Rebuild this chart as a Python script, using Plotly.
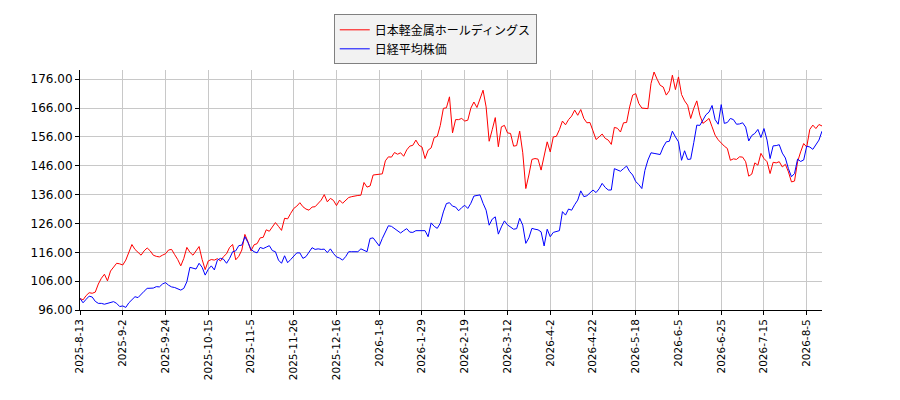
import plotly.graph_objects as go

# values (both series start at 100), one per trading day
nlm = [
    100.0, 99.5, 101.0, 102.0, 101.8, 102.2, 105.0, 107.0, 108.4, 106.1,
    109.5, 111.0, 112.2, 112.0, 111.6, 113.3, 116.0, 118.7, 117.0, 116.0,
    115.0, 116.5, 117.5, 116.5, 115.0, 114.6, 114.4, 115.0, 115.5, 116.8,
    117.0, 115.2, 113.5, 111.3, 113.9, 117.7, 116.0, 115.0, 116.5, 118.0,
    113.5, 110.0, 113.0, 113.5, 113.3, 113.8, 113.0, 114.5, 115.5, 117.7,
    118.7, 113.4, 114.6, 116.8, 122.2, 119.7, 116.5, 118.6, 119.0, 121.0,
    121.2, 123.8, 123.3, 125.0, 126.3, 125.0, 123.6, 127.8, 127.6, 129.5,
    131.2, 132.0, 133.2, 131.8, 131.0, 130.6, 131.7, 131.8, 133.0, 134.1,
    136.0, 133.5, 134.7, 134.0, 132.2, 134.1, 133.0, 134.0, 135.0, 135.3,
    135.6, 135.7, 135.8, 140.2, 138.6, 139.0, 142.8, 143.0, 143.2, 143.2,
    147.7, 149.1, 149.0, 150.6, 150.0, 150.5, 149.3, 151.5, 152.8, 153.1,
    154.9, 153.1, 152.5, 148.5, 151.4, 152.2, 155.8, 156.2, 160.0, 165.9,
    166.1, 169.9, 157.4, 162.0, 162.0, 162.4, 161.5, 161.8, 166.0, 168.1,
    166.2, 169.0, 172.2, 166.4, 154.5, 158.5, 162.7, 152.6, 159.5, 160.0,
    157.4, 157.2, 152.8, 153.0, 158.0, 150.5, 138.1, 142.8, 148.2, 148.5,
    148.3, 144.5, 149.1, 154.3, 150.8, 156.0, 156.2, 158.5, 161.5, 160.2,
    162.0, 163.2, 165.3, 163.5, 165.5, 162.4, 160.9, 161.0, 158.1, 155.1,
    156.0, 157.0, 155.5, 154.9, 153.4, 159.3, 159.0, 157.7, 160.9, 161.0,
    166.4, 170.5, 171.0, 167.6, 166.0, 166.0, 165.8, 174.5, 178.5, 176.0,
    173.9, 173.3, 170.5, 172.0, 177.4, 172.4, 176.8, 170.7, 168.5, 167.0,
    162.4, 165.9, 168.5, 163.5, 160.7, 161.5, 162.4, 159.5, 156.6, 155.0,
    153.7, 152.8, 152.0, 147.9, 148.4, 148.2, 149.1, 149.0, 147.4, 142.4,
    143.1, 147.0, 146.2, 150.3, 148.5, 147.4, 143.3, 147.2, 147.0, 147.4,
    145.6, 146.5, 143.9, 140.4, 140.7, 147.4, 150.8, 153.7, 152.5, 158.6,
    160.1, 158.9, 160.3, 159.8,
]

nikkei = [
    100.0, 98.5, 99.7, 100.8, 100.5, 99.0, 98.3, 98.3, 98.0, 98.3,
    98.5, 98.9, 98.3, 97.2, 97.4, 96.9, 98.5, 99.5, 100.6, 100.3,
    101.5, 102.5, 103.5, 103.5, 103.6, 104.1, 104.0, 105.0, 105.5, 104.6,
    104.0, 103.8, 103.3, 102.9, 103.5, 105.8, 110.8, 110.5, 110.2, 112.2,
    110.8, 108.1, 110.1, 111.3, 109.9, 113.3, 113.9, 113.6, 112.2, 113.9,
    116.2, 116.5, 118.3, 118.5, 121.4, 119.4, 117.0, 116.2, 115.8, 117.7,
    117.3, 117.8, 118.3, 116.6, 116.2, 113.3, 112.2, 114.8, 112.4, 113.5,
    114.5, 115.8, 115.8, 113.9, 114.5, 116.0, 117.6, 117.0, 117.2, 117.0,
    117.1, 115.9, 117.2, 115.6, 114.4, 114.0, 113.3, 114.5, 116.2, 116.2,
    116.1, 116.2, 117.2, 116.8, 116.2, 120.8, 121.0, 119.6, 118.2, 120.8,
    123.0, 125.2, 125.0, 124.2, 123.3, 122.7, 123.5, 124.2, 123.0, 122.9,
    123.5, 123.4, 123.5, 123.5, 121.4, 126.2, 125.0, 124.3, 126.1, 130.0,
    132.9, 133.2, 132.0, 131.7, 130.4, 131.5, 132.3, 131.2, 133.0, 135.5,
    135.7, 135.9, 133.0, 130.6, 125.4, 127.5, 128.3, 122.3, 124.8, 126.9,
    125.5, 124.8, 124.0, 124.2, 127.8, 125.4, 119.1, 121.0, 124.3, 124.0,
    123.8, 123.1, 118.2, 124.0, 121.4, 122.9, 123.2, 123.5, 130.1, 128.9,
    131.0, 130.6, 132.5, 134.1, 137.3, 135.3, 135.6, 136.5, 137.6, 136.7,
    138.0, 139.9, 138.5, 137.6, 137.6, 145.0, 144.5, 144.1, 145.0, 145.9,
    144.0, 142.8, 140.5, 139.5, 138.1, 144.4, 148.0, 150.5, 150.3, 150.2,
    149.9, 152.5, 154.3, 154.5, 158.0, 156.0, 154.3, 147.9, 151.2, 148.2,
    148.3, 154.0, 160.1, 160.0, 161.8, 163.7, 164.6, 166.9, 162.0, 160.4,
    167.2, 160.7, 161.0, 162.4, 162.0, 160.4, 160.5, 160.9, 159.4, 154.6,
    156.5, 157.2, 158.6, 155.8, 158.9, 154.9, 148.5, 152.9, 153.0, 153.3,
    150.4, 148.7, 145.0, 142.2, 143.3, 148.3, 147.5, 148.0, 152.8, 152.5,
    151.7, 153.5, 154.9, 158.0,
]

date_labels = [
    "2025-8-13", "2025-9-2", "2025-9-24", "2025-10-15", "2025-11-5",
    "2025-11-26", "2025-12-16", "2026-1-8", "2026-1-29", "2026-2-19",
    "2026-3-12", "2026-4-2", "2026-4-22", "2026-5-18", "2026-6-5",
    "2026-6-25", "2026-7-15", "2026-8-5",
]
tick_step = 14  # trading days between labelled dates
y_ticks = [96, 106, 116, 126, 136, 146, 156, 166, 176]

days = list(range(len(nlm)))
font = "DejaVu Sans, Noto Sans CJK JP, sans-serif"

fig = go.Figure()
fig.add_trace(go.Scatter(x=days, y=nlm, mode="lines", name="日本軽金属ホールディングス",
                         line=dict(color="#ff0000", width=1)))
fig.add_trace(go.Scatter(x=days, y=nikkei, mode="lines", name="日経平均株価",
                         line=dict(color="#0000ff", width=1)))

# page body adds 8px offset, so margins are trimmed to land the plot where the reference has it
fig.update_layout(
    width=900, height=400,
    margin=dict(l=72, r=86, t=62, b=98, autoexpand=False),
    paper_bgcolor="white", plot_bgcolor="white",
    font=dict(family=font, size=11, color="#000000"),
    showlegend=True,
    legend=dict(x=0.342, y=1.232, xanchor="left", yanchor="top",
                bgcolor="#f2f2f2", bordercolor="#808080", borderwidth=1,
                font=dict(family=font, size=12), tracegroupgap=0,
                itemwidth=30),
    xaxis=dict(range=[0, len(nlm) - 1],
               tickvals=[i * tick_step for i in range(len(date_labels))],
               ticktext=date_labels, tickangle=-90,
               showgrid=True, gridcolor="#c8c8c8", gridwidth=1,
               showline=True, linecolor="#000000", linewidth=1,
               ticks="outside", ticklen=4, tickcolor="#000000",
               tickfont=dict(size=10.5), zeroline=False),
    yaxis=dict(range=[96, 179.2], tickvals=y_ticks, tickformat=".2f",
               showgrid=True, gridcolor="#c8c8c8", gridwidth=1,
               showline=True, linecolor="#000000", linewidth=1,
               ticks="outside", ticklen=4, tickcolor="#000000",
               tickfont=dict(size=12), zeroline=False),
)

fig.write_html("out.html")
